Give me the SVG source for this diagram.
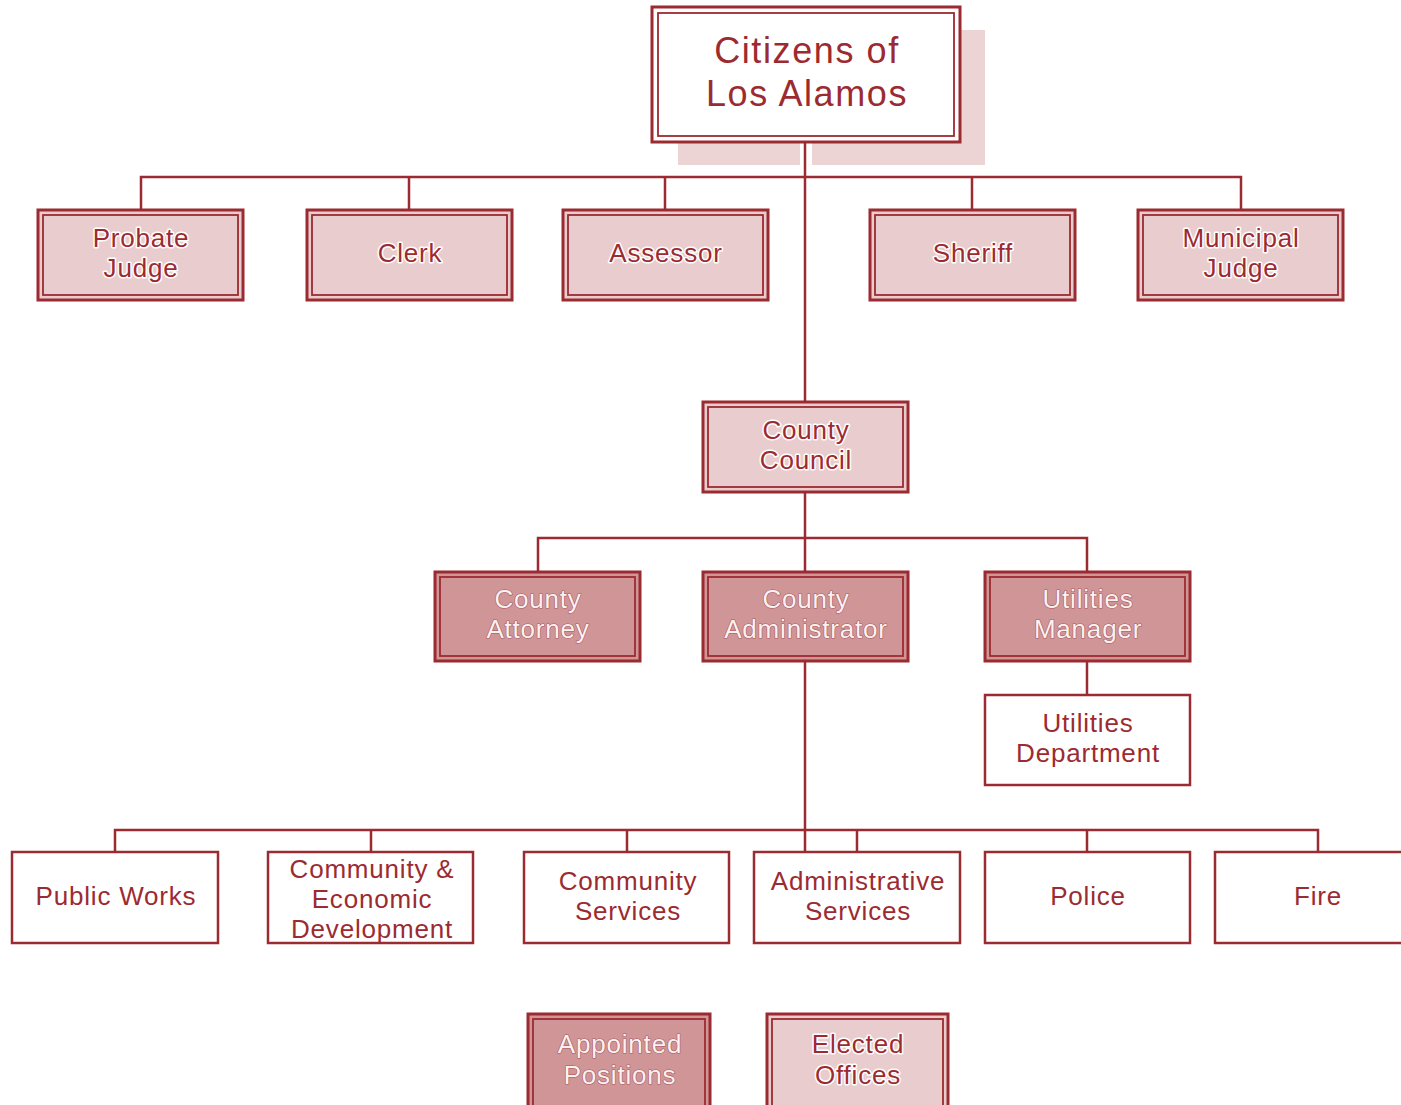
<svg xmlns="http://www.w3.org/2000/svg" width="1401" height="1105" viewBox="0 0 1401 1105">
<defs>
<style>
.ln{stroke:#9c2b31;stroke-width:2.5;fill:none}
.outer{fill:none;stroke:#9c2b31;stroke-width:3}
.inner{fill:none;stroke:#9c2b31;stroke-width:1.8}
.el{fill:#e9cdce}
.ap{fill:#cf9597}
.plain{fill:#fff;stroke:#9c2b31;stroke-width:2.5}
text{font-family:"Liberation Sans",Arial,sans-serif;font-size:26px;letter-spacing:0.8px;text-anchor:middle}
.te{fill:#9c2b31;stroke:#fff;stroke-width:3;paint-order:stroke;stroke-linejoin:round}
.ta{fill:#fbf1f1;stroke:#a8585c;stroke-width:1.2;paint-order:stroke;stroke-linejoin:round}
.tp{fill:#9c2b31}
.big{font-size:36px;letter-spacing:1.6px}
</style>
</defs>
<rect width="1401" height="1105" fill="#fff"/>
<g id="connectors">
<path class="ln" d="M805 142V403M141 210V177H1241V210M409 177V210M665 177V210M972 177V210"/>
<path class="ln" d="M805 492V572M538 572V538H1087V572"/>
<path class="ln" d="M1087 661V695"/>
<path class="ln" d="M805 661V852M115 852V830H1318V852M371 830V852M627 830V852M857 830V852M1087 830V852"/>
</g>
<g id="citizens">
<rect x="678" y="30" width="122" height="135" fill="#ecd4d5"/>
<rect x="812" y="30" width="173" height="135" fill="#ecd4d5"/>
<rect x="652" y="7" width="308" height="135" fill="#fff"/>
<rect class="outer" x="652" y="7" width="308" height="135"/>
<rect class="inner" x="658" y="13" width="296" height="123"/>
<text class="tp big" x="807" y="63">Citizens of</text>
<text class="tp big" x="807" y="106">Los Alamos</text>
</g>
<g id="probate-judge">
<rect class="el" x="38" y="210" width="205" height="90"/>
<rect class="outer" x="38" y="210" width="205" height="90"/>
<rect class="inner" x="43" y="215" width="195" height="80"/>
<text class="te" x="141" y="247">Probate</text>
<text class="te" x="141" y="277">Judge</text>
</g>
<g id="clerk">
<rect class="el" x="307" y="210" width="205" height="90"/>
<rect class="outer" x="307" y="210" width="205" height="90"/>
<rect class="inner" x="312" y="215" width="195" height="80"/>
<text class="te" x="410" y="262">Clerk</text>
</g>
<g id="assessor">
<rect class="el" x="563" y="210" width="205" height="90"/>
<rect class="outer" x="563" y="210" width="205" height="90"/>
<rect class="inner" x="568" y="215" width="195" height="80"/>
<text class="te" x="666" y="262">Assessor</text>
</g>
<g id="sheriff">
<rect class="el" x="870" y="210" width="205" height="90"/>
<rect class="outer" x="870" y="210" width="205" height="90"/>
<rect class="inner" x="875" y="215" width="195" height="80"/>
<text class="te" x="973" y="262">Sheriff</text>
</g>
<g id="municipal-judge">
<rect class="el" x="1138" y="210" width="205" height="90"/>
<rect class="outer" x="1138" y="210" width="205" height="90"/>
<rect class="inner" x="1143" y="215" width="195" height="80"/>
<text class="te" x="1241" y="247">Municipal</text>
<text class="te" x="1241" y="277">Judge</text>
</g>
<g id="county-council">
<rect class="el" x="703" y="402" width="205" height="90"/>
<rect class="outer" x="703" y="402" width="205" height="90"/>
<rect class="inner" x="708" y="407" width="195" height="80"/>
<text class="te" x="806" y="439">County</text>
<text class="te" x="806" y="469">Council</text>
</g>
<g id="county-attorney">
<rect class="ap" x="435" y="572" width="205" height="89"/>
<rect class="outer" x="435" y="572" width="205" height="89"/>
<rect class="inner" x="440" y="577" width="195" height="79"/>
<text class="ta" x="538" y="608">County</text>
<text class="ta" x="538" y="638">Attorney</text>
</g>
<g id="county-administrator">
<rect class="ap" x="703" y="572" width="205" height="89"/>
<rect class="outer" x="703" y="572" width="205" height="89"/>
<rect class="inner" x="708" y="577" width="195" height="79"/>
<text class="ta" x="806" y="608">County</text>
<text class="ta" x="806" y="638">Administrator</text>
</g>
<g id="utilities-manager">
<rect class="ap" x="985" y="572" width="205" height="89"/>
<rect class="outer" x="985" y="572" width="205" height="89"/>
<rect class="inner" x="990" y="577" width="195" height="79"/>
<text class="ta" x="1088" y="608">Utilities</text>
<text class="ta" x="1088" y="638">Manager</text>
</g>
<g id="utilities-department">
<rect class="plain" x="985" y="695" width="205" height="90"/>
<text class="tp" x="1088" y="732">Utilities</text>
<text class="tp" x="1088" y="762">Department</text>
</g>
<g id="public-works">
<rect class="plain" x="12" y="852" width="206" height="91"/>
<text class="tp" x="116" y="905">Public Works</text>
</g>
<g id="community-economic-development">
<rect class="plain" x="268" y="852" width="205" height="91"/>
<text class="tp" x="372" y="878">Community &amp;</text>
<text class="tp" x="372" y="908">Economic</text>
<text class="tp" x="372" y="938">Development</text>
</g>
<g id="community-services">
<rect class="plain" x="524" y="852" width="205" height="91"/>
<text class="tp" x="628" y="890">Community</text>
<text class="tp" x="628" y="920">Services</text>
</g>
<g id="administrative-services">
<rect class="plain" x="754" y="852" width="206" height="91"/>
<text class="tp" x="858" y="890">Administrative</text>
<text class="tp" x="858" y="920">Services</text>
</g>
<g id="police">
<rect class="plain" x="985" y="852" width="205" height="91"/>
<text class="tp" x="1088" y="905">Police</text>
</g>
<g id="fire">
<rect class="plain" x="1215" y="852" width="205" height="91"/>
<text class="tp" x="1318" y="905">Fire</text>
</g>
<g id="legend-appointed">
<rect class="ap" x="528" y="1014" width="182" height="100"/>
<rect class="outer" x="528" y="1014" width="182" height="100"/>
<rect class="inner" x="533" y="1019" width="172" height="90"/>
<text class="ta" x="620" y="1053">Appointed</text>
<text class="ta" x="620" y="1084">Positions</text>
</g>
<g id="legend-elected">
<rect class="el" x="767" y="1014" width="181" height="100"/>
<rect class="outer" x="767" y="1014" width="181" height="100"/>
<rect class="inner" x="772" y="1019" width="171" height="90"/>
<text class="te" x="858" y="1053">Elected</text>
<text class="te" x="858" y="1084">Offices</text>
</g>
</svg>
